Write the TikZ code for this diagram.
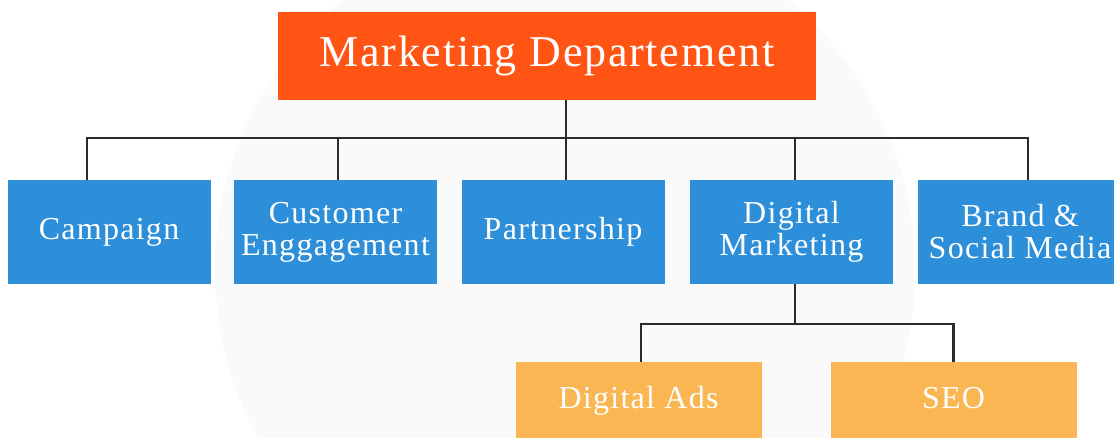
\documentclass[tikz,border=0pt]{standalone}
\usepackage{fontspec}
\setmainfont{Liberation Serif}[LetterSpace=4]
\usetikzlibrary{positioning}
\definecolor{deptorange}{HTML}{FF5414}
\definecolor{unitblue}{HTML}{2D8FDA}
\definecolor{subyellow}{HTML}{F9B653}
\definecolor{linkgray}{HTML}{2B2B2B}
\definecolor{markgray}{HTML}{FAFAFA}
\tikzset{
  dept/.style={fill=deptorange,text=white,minimum width=538pt,minimum height=88pt,
    font=\fontsize{44}{46}\selectfont},
  unit/.style={fill=unitblue,text=white,minimum width=203pt,minimum height=104pt,
    align=center,font=\fontsize{32}{32}\selectfont},
  subunit/.style={fill=subyellow,text=white,minimum width=246pt,minimum height=78pt,
    text height=22pt,text depth=7pt,font=\fontsize{32}{32}\selectfont},
  link/.style={draw=linkgray,line width=2.8pt}
}

\begin{document}
\begin{tikzpicture}[x=1pt,y=-1pt]
\useasboundingbox (0,0) rectangle (1114,438);
% faint mark behind the chart
\fill [markgray] (565,270) circle (350pt);
%\fill [white] (347,317) rectangle (427,395);
\node [dept] (dept) at (547,56) {Marketing Departement};
\node [unit] (campaign) at (109,232) {Campaign};
\node [unit] (customer) at (335.5,232) {Customer\\Enggagement};
\node [unit] (partner) at (563,232) {Partnership};
\node [unit] (digital) at (791.5,232) {Digital\\Marketing};
\node [unit,minimum width=204pt] (brand) at (1020,232) {Brand \&\\Social Media};
\node [subunit] (ads) at (638.5,401) {Digital Ads};
\node [subunit] (seo) at (953.5,401) {SEO};
% first level
\coordinate (bus) at (566,138);
\draw [link] ([xshift=19pt]dept.south) -- ([xshift=3pt]partner.north);
\draw [link] ([xshift=-22pt]campaign.north) |- (bus) -| ([xshift=8pt]brand.north);
\draw [link] ([xshift=2.5pt]customer.north) -- +(0,-42);
\draw [link] ([xshift=3.5pt]digital.north) -- +(0,-42);
% second level
\coordinate (subbus) at (795,324);
\draw [link] ([xshift=3.5pt]digital.south) -- (subbus);
\draw [link] ([xshift=2.5pt]ads.north) |- (subbus) -| (seo.north);
\end{tikzpicture}
\end{document}
